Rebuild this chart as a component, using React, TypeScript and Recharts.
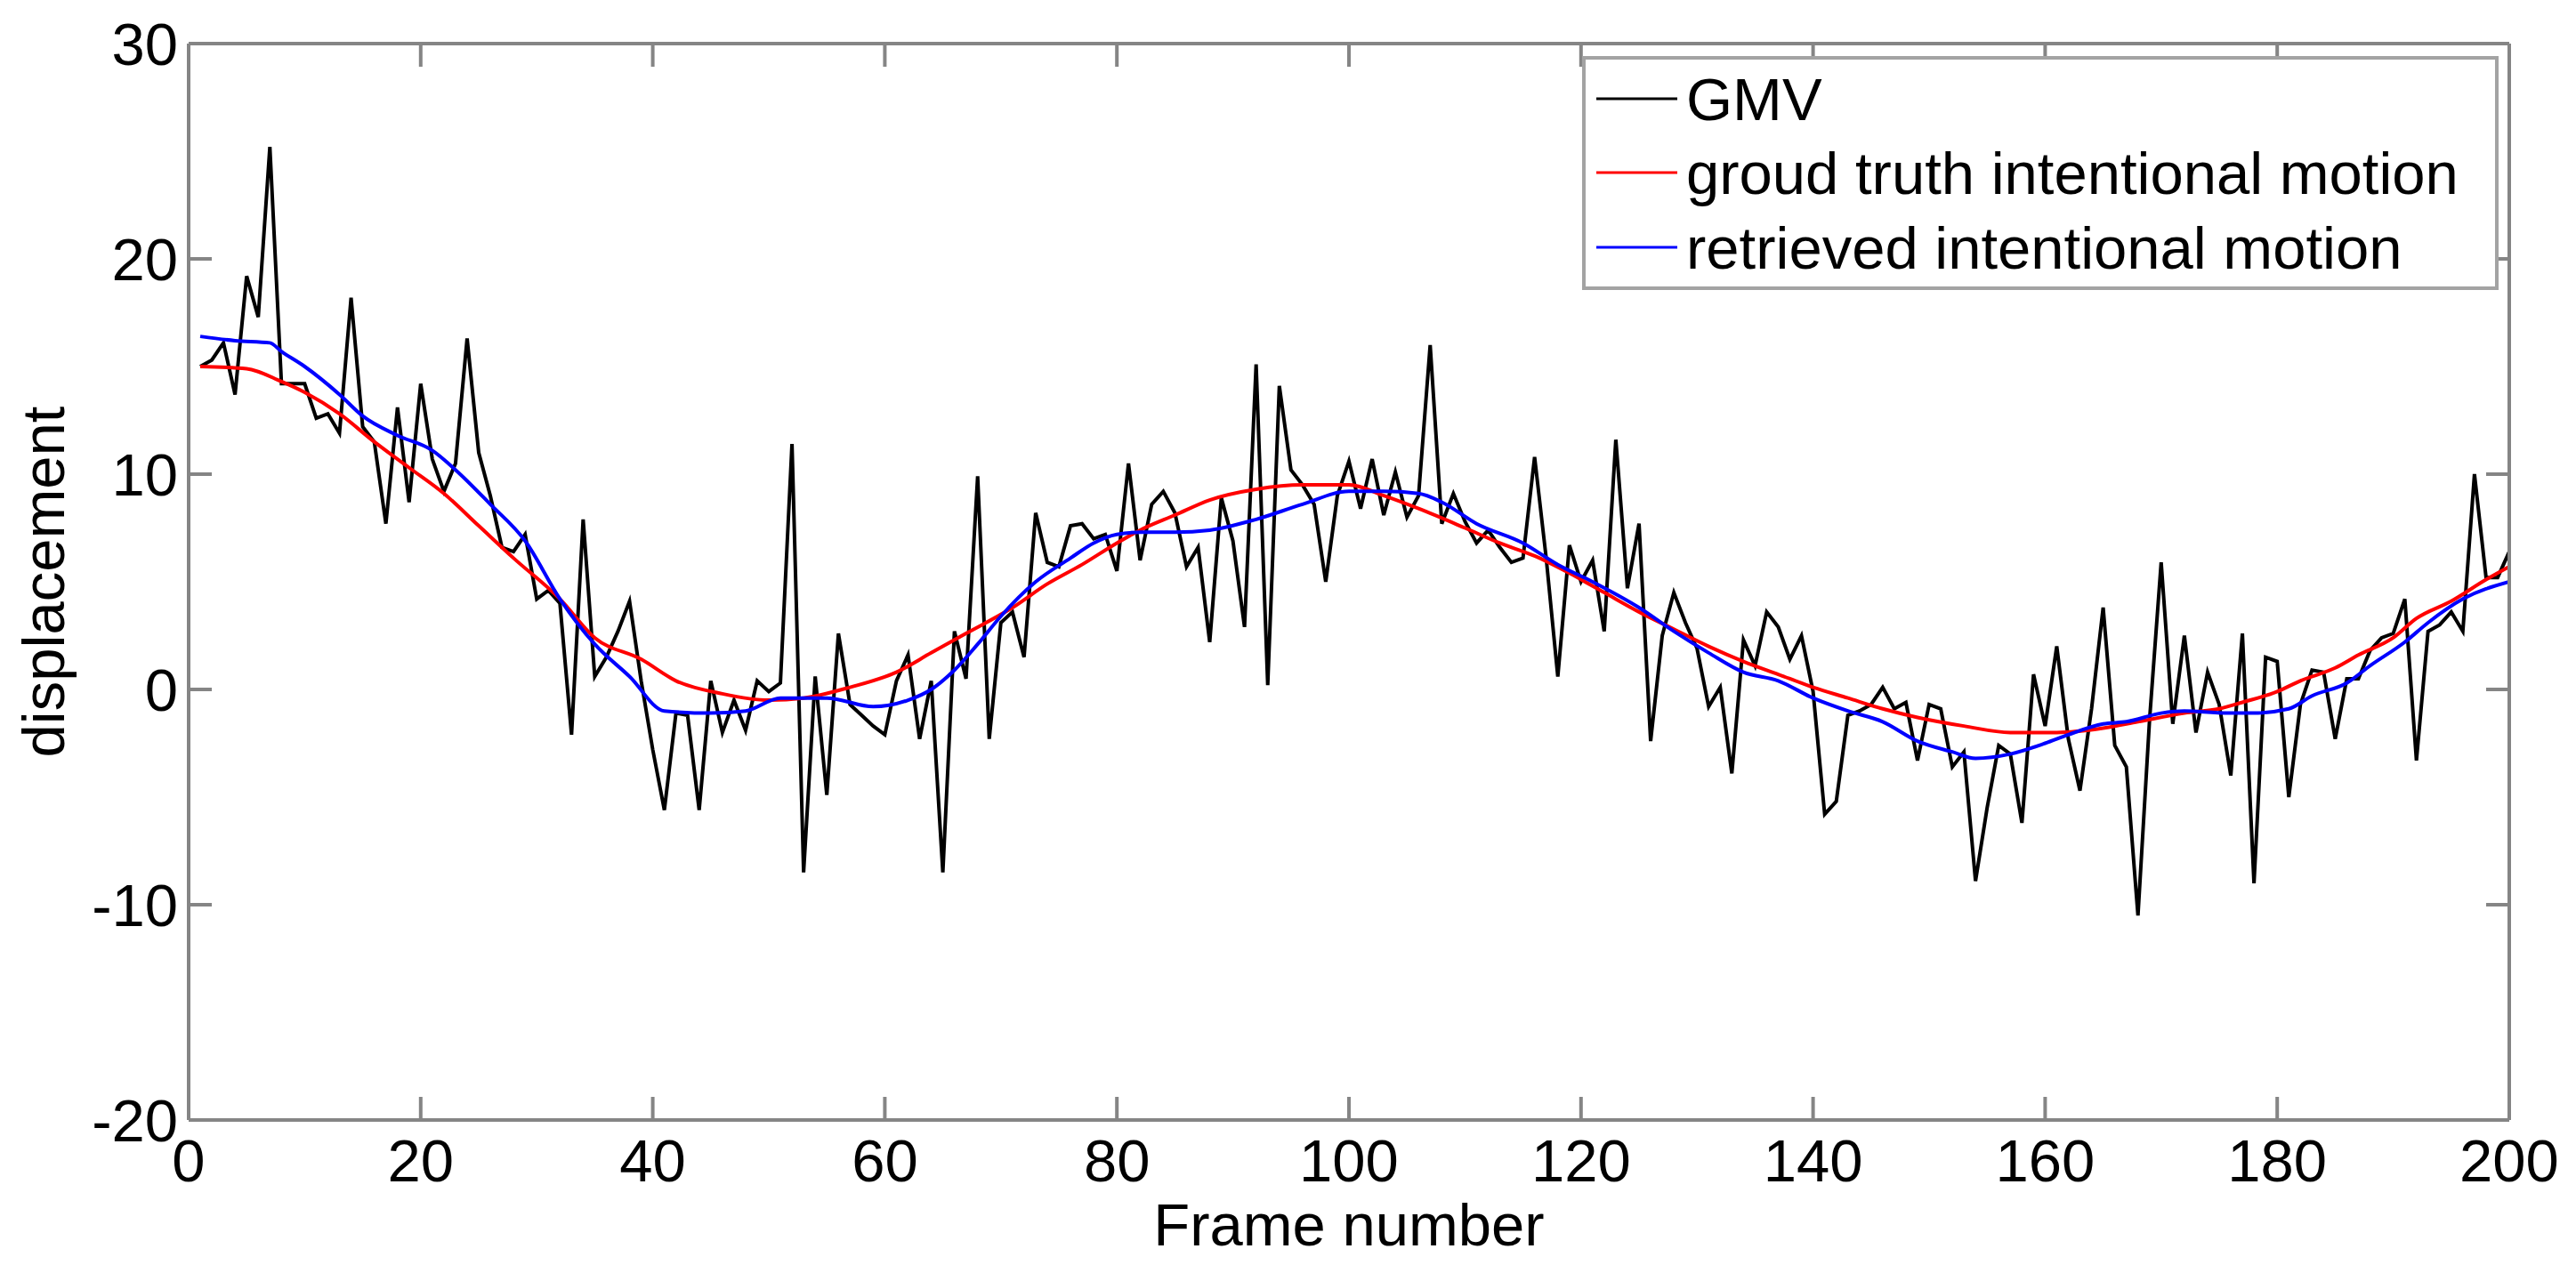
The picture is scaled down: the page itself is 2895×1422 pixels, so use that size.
import React from "react"
import { LineChart, Line, XAxis, YAxis, Legend } from "recharts"

const AXIS_GREY = "#858585"
const LEGEND_GREY = "#a3a3a3"
const BLACK = "#000000"
const RED = "#ff0000"
const BLUE = "#0000ff"
const FONT = "'Liberation Sans', Arial, Helvetica, sans-serif"
const FONT_SIZE = 67
const TICK_LEN = 26
const AXIS_SIZE = 1

const WIDTH = 2895
const HEIGHT = 1422
const PLOT = { left: 212, right: 2820, top: 49, bottom: 1259 }

const xTicks = [0, 20, 40, 60, 80, 100, 120, 140, 160, 180, 200]
const yTicks = [-20, -10, 0, 10, 20, 30]

// GMV, frames 1..200
const gmvValues = [
  15.0, 15.3, 16.1, 13.7, 19.2, 17.3, 25.2, 14.2, 14.2, 14.2,
  12.6, 12.8, 11.9, 18.2, 12.2, 11.5, 7.7, 13.1, 8.7, 14.2,
  10.7, 9.2, 10.5, 16.3, 11.0, 9.0, 6.6, 6.4, 7.2, 4.2,
  4.6, 4.0, -2.1, 7.9, 0.6, 1.5, 2.7, 4.1, 0.4, -2.8,
  -5.6, -1.1, -1.2, -5.6, 0.4, -2.0, -0.5, -1.9, 0.4, -0.1,
  0.3, 11.4, -8.5, 0.6, -4.9, 2.6, -0.7, -1.2, -1.7, -2.1,
  0.4, 1.6, -2.3, 0.4, -8.5, 2.7, 0.5, 9.9, -2.3, 3.1,
  3.6, 1.5, 8.2, 5.9, 5.7, 7.6, 7.7, 7.0, 7.2, 5.5,
  10.5, 6.0, 8.6, 9.2, 8.2, 5.7, 6.6, 2.2, 8.9, 6.9,
  2.9, 15.1, 0.2, 14.1, 10.2, 9.5, 8.6, 5.0, 9.0, 10.6,
  8.4, 10.7, 8.1, 10.1, 8.0, 9.0, 16.0, 7.7, 9.1, 7.8,
  6.8, 7.4, 6.6, 5.9, 6.1, 10.8, 6.1, 0.6, 6.7, 5.0,
  6.0, 2.7, 11.6, 4.7, 7.7, -2.4, 2.5, 4.5, 3.1, 1.9,
  -0.8, 0.1, -3.9, 2.3, 1.1, 3.6, 2.9, 1.4, 2.5, -0.1,
  -5.8, -5.2, -1.2, -1.0, -0.7, 0.1, -0.9, -0.6, -3.3, -0.7,
  -0.9, -3.6, -2.9, -8.9, -5.5, -2.6, -3.0, -6.2, 0.7, -1.7,
  2.0, -2.3, -4.7, -0.9, 3.8, -2.6, -3.6, -10.5, -1.4, 5.9,
  -1.6, 2.5, -2.0, 0.8, -0.7, -4.0, 2.6, -9.0, 1.5, 1.3,
  -5.0, -0.7, 0.9, 0.8, -2.3, 0.5, 0.5, 1.8, 2.4, 2.6,
  4.2, -3.3, 2.7, 3.0, 3.6, 2.7, 10.0, 5.2, 5.2, 6.4,
]
const gmvFrames = gmvValues.map((_, i) => i + 1)

const truthFrames = [
  1, 5, 8, 10, 13, 16, 19, 22, 25, 28, 32, 35, 39, 42, 46, 50, 53, 57, 61, 64,
  67, 71, 74, 77, 80, 82, 85, 88, 92, 96, 100, 103, 106, 110, 113, 116, 119, 122, 125, 128,
  131, 134, 137, 140, 143, 146, 149, 153, 157, 161, 165, 168, 172, 175, 177, 180, 182, 185, 187, 190,
  192, 195, 198, 200,
]
const truthValues = [
  15.0, 14.9, 14.3, 13.8, 12.8, 11.5, 10.3, 9.1, 7.6, 6.1, 4.2, 2.4, 1.4, 0.4, -0.2, -0.5, -0.4, 0.1, 0.8, 1.7,
  2.6, 3.8, 4.9, 5.8, 6.8, 7.4, 8.1, 8.8, 9.3, 9.5, 9.5, 9.0, 8.4, 7.5, 6.8, 6.2, 5.4, 4.5, 3.6, 2.8,
  2.0, 1.3, 0.7, 0.1, -0.4, -0.9, -1.3, -1.7, -2.0, -2.0, -1.8, -1.5, -1.1, -0.9, -0.6, -0.1, 0.4, 1.0, 1.6, 2.4,
  3.3, 4.1, 5.1, 5.7,
]

const retrievedFrames = [
  1, 4, 7, 8, 10, 13, 15, 18, 21, 23, 26, 29, 32, 35, 38, 41, 45, 48, 51, 55,
  59, 62, 64, 66, 68, 70, 73, 76, 78, 80, 82, 85, 88, 92, 96, 100, 103, 106, 108, 111,
  115, 118, 121, 125, 128, 131, 134, 137, 140, 143, 146, 149, 152, 154, 157, 160, 162, 165, 167, 170,
  172, 176, 178, 181, 183, 186, 188, 191, 193, 196, 200,
]
const retrievedValues = [
  16.4, 16.2, 16.1, 15.7, 15.0, 13.7, 12.7, 11.8, 11.1, 10.2, 8.6, 6.9, 4.2, 2.1, 0.6, -1.0, -1.1, -1.0, -0.4, -0.4,
  -0.8, -0.5, 0.0, 0.9, 2.1, 3.4, 5.0, 6.1, 6.8, 7.2, 7.3, 7.3, 7.4, 7.9, 8.6, 9.2, 9.2, 9.1, 8.7, 7.7,
  6.8, 5.8, 5.0, 3.8, 2.7, 1.7, 0.8, 0.4, -0.4, -1.0, -1.5, -2.4, -2.9, -3.2, -3.0, -2.5, -2.1, -1.6, -1.5, -1.1,
  -1.0, -1.1, -1.1, -0.9, -0.3, 0.3, 1.1, 2.2, 3.1, 4.2, 5.0,
]

const gmvData = gmvFrames.map((frame, i) => ({ frame, value: gmvValues[i] }))
const truthData = truthFrames.map((frame, i) => ({ frame, value: truthValues[i] }))
const retrievedData = retrievedFrames.map((frame, i) => ({ frame, value: retrievedValues[i] }))

const textStyle = { fontFamily: FONT, fontSize: FONT_SIZE, fill: BLACK }

function BottomTick({ x, y, payload }: any) {
  return (
    <g>
      <line x1={x} y1={y} x2={x} y2={y - TICK_LEN} stroke={AXIS_GREY} strokeWidth={4} />
      <text x={x} y={y + 69} textAnchor="middle" style={textStyle}>
        {payload.value}
      </text>
    </g>
  )
}

function TopTick({ x, y }: any) {
  return <line x1={x} y1={y} x2={x} y2={y + TICK_LEN} stroke={AXIS_GREY} strokeWidth={4} />
}

function LeftTick({ x, y, payload }: any) {
  return (
    <g>
      <line x1={x} y1={y} x2={x + TICK_LEN} y2={y} stroke={AXIS_GREY} strokeWidth={4} />
      <text x={x - 12} y={y + 24} textAnchor="end" style={textStyle}>
        {payload.value}
      </text>
    </g>
  )
}

function RightTick({ x, y }: any) {
  return <line x1={x} y1={y} x2={x - TICK_LEN} y2={y} stroke={AXIS_GREY} strokeWidth={4} />
}

function XTitle() {
  return (
    <text x={(PLOT.left + PLOT.right) / 2} y={1400} textAnchor="middle" style={textStyle}>
      Frame number
    </text>
  )
}

function YTitle() {
  const cy = (PLOT.top + PLOT.bottom) / 2
  return (
    <text x={72} y={cy} textAnchor="middle" transform={`rotate(-90, 72, ${cy})`} style={textStyle}>
      displacement
    </text>
  )
}

const LEGEND_BOX = { left: 1778, top: 63, width: 1030, height: 263 }
const LEGEND_ROWS = [72, 155, 239]

function LegendBox({ payload }: any) {
  const items = payload ?? []
  return (
    <svg width={LEGEND_BOX.width} height={LEGEND_BOX.height} style={{ display: "block" }}>
      <rect
        x={2}
        y={2}
        width={LEGEND_BOX.width - 4}
        height={LEGEND_BOX.height - 4}
        fill="#ffffff"
        stroke={LEGEND_GREY}
        strokeWidth={4}
      />
      {items.map((item: any, i: number) => (
        <g key={item.value}>
          <line
            x1={16}
            x2={107}
            y1={LEGEND_ROWS[i] - 24}
            y2={LEGEND_ROWS[i] - 24}
            stroke={item.color}
            strokeWidth={3}
          />
          <text x={117} y={LEGEND_ROWS[i]} style={textStyle}>
            {item.value}
          </text>
        </g>
      ))}
    </svg>
  )
}

const axisLine = { stroke: AXIS_GREY, strokeWidth: 4 }

export default function App() {
  return (
    <div style={{ position: "absolute", left: 0, top: 0, width: WIDTH, height: HEIGHT, background: "#fff" }}>
      <LineChart
        width={WIDTH}
        height={HEIGHT}
        margin={{
          top: PLOT.top - AXIS_SIZE,
          right: WIDTH - PLOT.right - AXIS_SIZE,
          bottom: HEIGHT - PLOT.bottom - AXIS_SIZE,
          left: PLOT.left - AXIS_SIZE,
        }}
      >
        <XAxis
          type="number"
          dataKey="frame"
          domain={[0, 200]}
          ticks={xTicks}
          interval={0}
          height={AXIS_SIZE}
          tickSize={0}
          tickMargin={0}
          tickLine={false}
          axisLine={axisLine}
          tick={<BottomTick />}
          label={<XTitle />}
          allowDataOverflow
        />
        <XAxis
          xAxisId="top"
          orientation="top"
          type="number"
          dataKey="frame"
          domain={[0, 200]}
          ticks={xTicks}
          interval={0}
          height={AXIS_SIZE}
          tickSize={0}
          tickMargin={0}
          tickLine={false}
          axisLine={axisLine}
          tick={<TopTick />}
          allowDataOverflow
        />
        <YAxis
          type="number"
          domain={[-20, 30]}
          ticks={yTicks}
          interval={0}
          width={AXIS_SIZE}
          tickSize={0}
          tickMargin={0}
          tickLine={false}
          axisLine={axisLine}
          tick={<LeftTick />}
          label={<YTitle />}
          allowDataOverflow
        />
        <YAxis
          yAxisId="right"
          orientation="right"
          type="number"
          domain={[-20, 30]}
          ticks={yTicks}
          interval={0}
          width={AXIS_SIZE}
          tickSize={0}
          tickMargin={0}
          tickLine={false}
          axisLine={axisLine}
          tick={<RightTick />}
          allowDataOverflow
        />
        <Legend
          layout="vertical"
          align="center"
          verticalAlign="middle"
          wrapperStyle={{
            left: LEGEND_BOX.left,
            top: LEGEND_BOX.top,
            width: LEGEND_BOX.width,
            height: LEGEND_BOX.height,
          }}
          content={<LegendBox />}
        />
        <Line
          data={gmvData}
          dataKey="value"
          name="GMV"
          type="linear"
          stroke={BLACK}
          strokeWidth={4}
          dot={false}
          isAnimationActive={false}
        />
        <Line
          data={truthData}
          dataKey="value"
          name="groud truth intentional motion"
          type="monotone"
          stroke={RED}
          strokeWidth={4}
          dot={false}
          isAnimationActive={false}
        />
        <Line
          data={retrievedData}
          dataKey="value"
          name="retrieved intentional motion"
          type="monotone"
          stroke={BLUE}
          strokeWidth={4}
          dot={false}
          isAnimationActive={false}
        />
      </LineChart>
    </div>
  )
}
